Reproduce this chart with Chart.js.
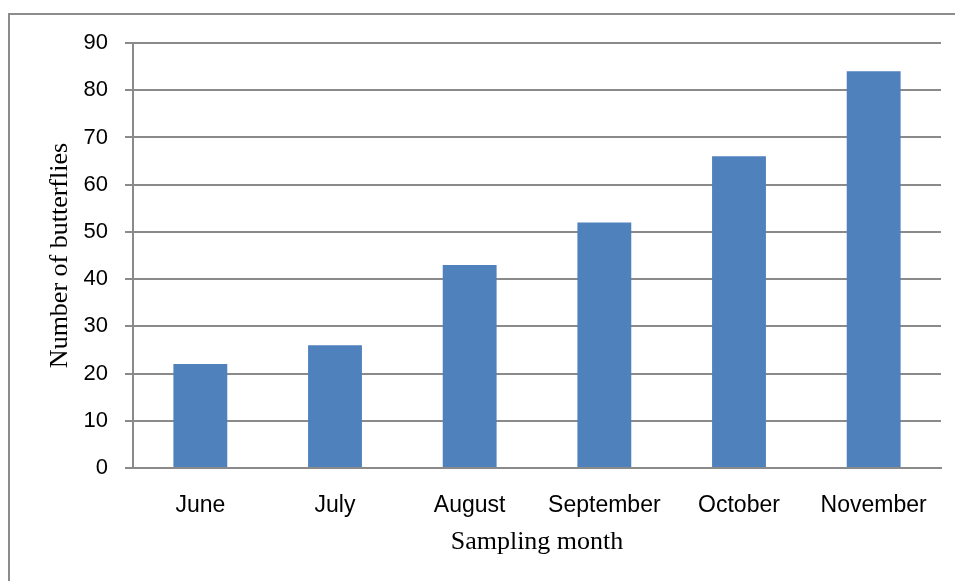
<!DOCTYPE html>
<html>
<head>
<meta charset="utf-8">
<script src="https://cdn.jsdelivr.net/npm/chart.js@4.4.1/dist/chart.umd.min.js"></script>
<style>
  html, body { margin: 0; padding: 0; background: #fff; }
  #wrap { position: relative; width: 955px; height: 581px; overflow: hidden; }
  #frame { position: absolute; left: 8px; top: 13px; width: 1000px; height: 700px;
           border-left: 2px solid #8c8c8c; border-top: 2px solid #8c8c8c; }
  canvas { position: absolute; left: 0; top: 0; }
</style>
</head>
<body>
<div id="wrap">
  <div id="frame"></div>
  <canvas id="chart" width="955" height="581"></canvas>
</div>
<script>
// data
const months = ['June', 'July', 'August', 'September', 'October', 'November'];
const butterflies = [22, 26, 43, 52, 66, 84];
const yTicks = [0, 10, 20, 30, 40, 50, 60, 70, 80, 90];

const gridGray = '#8a8a8a';

const ctx = document.getElementById('chart').getContext('2d');
new Chart(ctx, {
    type: 'bar',
    data: {
        labels: months,
        datasets: [{
            label: 'Number of butterflies',
            data: butterflies,
            backgroundColor: '#4F81BD',
            borderWidth: 0,
            barPercentage: 0.4,
            categoryPercentage: 1
        }]
    },
    options: {
        responsive: false,
        animation: false,
        layout: { padding: { left: 30, right: 14, top: 43, bottom: 0 } },
        plugins: {
            legend: { display: false },
            tooltip: { enabled: false }
        },
        scales: {
            x: {
                afterFit: s => { s.height = 113; },
                grid: { display: false },
                border: { display: true, color: gridGray, width: 2 },
                ticks: {
                    color: '#000',
                    padding: 16,
                    font: { family: 'Liberation Sans', size: 23 }
                },
                title: {
                    display: true,
                    text: 'Sampling month',
                    color: '#000',
                    padding: { top: 0, bottom: 23 },
                    font: { family: 'Liberation Serif', size: 26 }
                }
            },
            y: {
                min: 0,
                max: 90,
                afterFit: s => { s.width = 103; },
                afterBuildTicks: s => { s.ticks = yTicks.map(v => ({ value: v })); },
                grid: { color: gridGray, lineWidth: 2, tickLength: 8 },
                border: { display: true, color: gridGray, width: 2 },
                ticks: {
                    color: '#000',
                    padding: 17,
                    font: { family: 'Liberation Sans', size: 22 }
                },
                title: {
                    display: true,
                    text: 'Number of butterflies',
                    color: '#000',
                    padding: { top: 15, bottom: 0 },
                    font: { family: 'Liberation Serif', size: 26 }
                }
            }
        }
    }
});
</script>
</body>
</html>
